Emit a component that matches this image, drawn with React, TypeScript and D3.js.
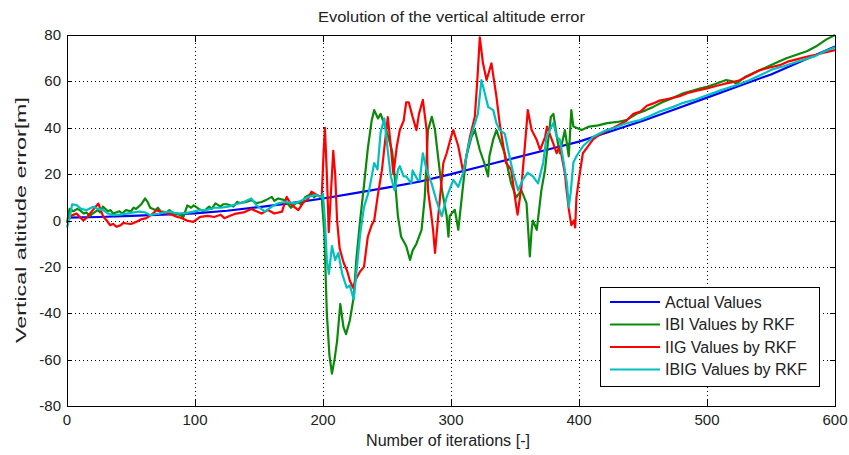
import React, { useRef, useEffect } from 'react';
import * as d3 from 'd3';

const W = 849;
const H = 455;

const xTicks = [0, 100, 200, 300, 400, 500, 600];
const yTicks = [-80, -60, -40, -20, 0, 20, 40, 60, 80];

const titleText = 'Evolution of the vertical altitude error';
const xLabelText = 'Number of iterations [-]';
const yLabelText = 'Vertical altitude error[m]';

const seriesNames = ['Actual Values', 'IBI Values by RKF', 'IIG Values by RKF', 'IBIG Values by RKF'];
const seriesColors = ['#0000ff', '#0a8a0a', '#ff0000', '#00c0c0'];

// [iteration, error]
const actualValues: [number, number][] = [
  [0, 1.2], [25, 1.5], [50, 2], [75, 2.5], [100, 3.1], [125, 4.2], [150, 5.8], [175, 7.5],
  [200, 9.5], [225, 11.8], [250, 14.2], [275, 16.7], [300, 20], [325, 23.5], [350, 27],
  [375, 30.5], [400, 34], [425, 38.5], [450, 43], [475, 48], [500, 53], [525, 58],
  [550, 63], [575, 69], [600, 75],
];

const ibiValues: [number, number][] = [
  [0, -1], [2, 5], [5, 4], [8, 5], [10, 4.5], [13, 3], [15, 3.5], [18, 2], [20, 3], [24, 4.5],
  [26, 3.5], [28, 6], [32, 4], [34, 4.5], [36, 3], [41, 4], [43, 3], [46, 4.5], [50, 4],
  [52, 5.5], [54, 5], [58, 7], [61, 9.5], [63, 8], [65, 5.5], [69, 4.5], [71, 5.5], [73, 4],
  [78, 3.5], [80, 4.5], [83, 3], [88, 2.5], [91, 1.6], [94, 6.5], [97, 5.5], [99, 6.5],
  [103, 5], [107, 4], [111, 6], [113, 5], [116, 7.4], [120, 6], [122, 7], [125, 7], [130, 6],
  [133, 8], [135, 7.5], [140, 8], [144, 8.8], [148, 7.5], [152, 8], [156, 9], [160, 10.2],
  [162, 8.5], [165, 9.5], [170, 8.8], [175, 5.5], [178, 7], [180, 8], [183, 7], [186, 10],
  [191, 11.6], [193, 10], [195, 11], [199, 10],
  [201, -5], [203, -40], [205, -58], [207, -66], [209, -60], [211, -52], [213.5, -36],
  [216, -46], [218, -49], [221, -43], [224, -33], [226, -17], [229, 0], [232, 15], [235, 31],
  [238, 43], [240, 47.6], [243, 44], [245, 46], [247, 43], [251, 36], [254, 30], [256, 19],
  [258.5, 2], [261, -7], [265, -11], [268, -17], [270, -13], [273, -10], [277, -4],
  [279.5, 10], [282, 39], [285, 44.7], [287.5, 39], [290, 27], [293, 13], [296.6, 2],
  [298, -7], [299, 2], [303, 4.6], [305.7, -4], [309.6, 16], [312, 27.7], [316, 36],
  [318.6, 39], [322.5, 30.4], [326, 24.8], [329, 19], [330, 27.7], [333, 35], [335.5, 39],
  [338, 35], [342, 29], [344.6, 22], [347, 16], [351, 10], [355, 13], [359, 7.5],
  [361.6, -15.5], [363, -4], [364, 0], [367, -4], [370.6, 13], [373.5, 22], [376, 35],
  [378, 44.7], [380, 46], [383, 35], [385, 29], [389, 39], [392, 27.7], [394, 47.6],
  [395.6, 40.5], [398, 40], [402, 39], [408, 40.5], [415, 41], [422, 42], [430, 42.5],
  [437, 43.3], [445, 46], [452, 47.5], [458, 49], [465, 51], [474, 53], [482, 55], [489, 56],
  [495, 57], [500, 57.7], [507, 59], [515, 60.6], [520, 60], [523, 59], [530, 62], [538, 64],
  [546, 66], [554, 68], [562, 70], [570, 71.5], [578, 73], [585, 75], [593, 78], [600, 80],
];

const iigValues: [number, number][] = [
  [0, -1], [3, 2], [7.5, 3], [10, 1.5], [12.8, 0], [15, 1], [18, 3], [21, 5], [24.5, 7.3],
  [26, 5], [28.4, 1.6], [31, 0], [33.6, -2], [36, -1.5], [38.8, -2.7], [42, -2], [44, -1],
  [46.6, -1.3], [50, -1.5], [54, -0.6], [58, 0.5], [62, 1], [66, 2.5], [70, 4.5], [74, 3.5],
  [78, 3], [82, 2.5], [85.7, 1.6], [90, 1], [93.5, 0], [98.7, -0.6], [104, 1.6], [110, 2],
  [115, 1.5], [120, 2.5], [123, 1], [126, 1.7], [132, 3], [138, 3.5], [144, 5], [148, 4],
  [152, 3], [157, 4.5], [162, 3], [168, 3.8], [171.6, 10.2], [175, 7], [180.7, 4.5], [185, 8],
  [188, 9], [191, 12.4], [195, 11], [199, 10],
  [200.5, 30], [201.5, 40], [203, 20], [204.5, -5], [206, 10], [208, 30], [209.5, 20],
  [211, 0], [213, -12], [216, -18], [219, -22], [221, -26], [223.5, -29], [226, -25],
  [229, -22], [232, -20], [235, -7], [238, -2], [240, 0], [243, 11.5], [246, 21.6],
  [248, 31.7], [250.6, 44.6], [253, 32], [255, 20], [257.6, 31.7], [260, 39], [263, 43],
  [265, 51], [267, 51], [270, 44.7], [273, 39], [275, 46], [278, 52], [281, 39], [282, 13],
  [284, 5], [286, -4], [287.5, -14], [290, 1.8], [294, 24.8], [296.6, 29], [300, 36],
  [301.8, 39], [305.7, 32], [309.6, 20.6], [312, 27.7], [314.8, 36], [318.6, 44.7],
  [320.5, 60], [322.5, 79], [325, 67.8], [327.8, 60.6], [331.6, 67.8], [335.5, 53.4],
  [338, 41.9], [343, 24.8], [347, 22], [351, 6], [352, 2.5], [355, 14.5], [357.7, 32],
  [360, 47.6], [363, 39], [367, 34.7], [369.6, 30.4], [373.5, 36], [375, 40.5], [377, 37.5],
  [380, 33], [382.5, 29], [385, 32], [389, 20.4], [390, 14.6], [392, 5], [394, -2], [396, 0],
  [397, -3], [398, 10], [400, 18], [403, 29], [407, 32], [411, 35], [416, 37], [421.6, 38.7],
  [427, 40], [432, 41.5], [437, 43], [442.5, 46], [448, 47], [453, 49.5], [458, 50.5],
  [463, 51.7], [470, 52.5], [478, 53.5], [485, 55], [492, 56], [500, 57], [507, 58],
  [514, 59], [520, 59.7], [525, 60.4], [533, 62.5], [541, 64.8], [549, 66], [556.9, 67],
  [563, 68.5], [570, 69.5], [577.6, 70.6], [585, 71.5], [592, 72.5], [600, 73.5],
];

const ibigValues: [number, number][] = [
  [0, -3], [2, 1], [4, 7], [7.5, 6.6], [11, 5], [15.4, 4.5], [20.6, 5.9], [24, 5],
  [28.4, 4.5], [32, 3], [36, 2.3], [41, 2.5], [46.6, 3], [52, 3.5], [57, 3.8], [61, 3.5],
  [65, 2.3], [69, 2.8], [72.6, 3], [76, 3.5], [80.5, 3.8], [84, 3.3], [88, 3], [93, 3.2],
  [98.7, 3.8], [104, 4.5], [109, 4.5], [115, 5.5], [120, 5.5], [126, 6], [132, 7], [138, 8],
  [144, 9.5], [148, 6.5], [154.7, 3.8], [160, 6], [165, 7.4], [170, 8], [178, 7.4],
  [183, 8.5], [188.5, 10.2], [194, 11], [199, 10],
  [200, 11.5], [201.5, 0], [203, -17], [204.6, -23], [207, -11], [209.5, -17], [212, -14],
  [215, -23], [218.5, -29], [221, -28], [224, -34], [226, -23], [229, -6], [232, 5.7],
  [236, 13], [240, 24.8], [242.6, 22], [245, 38], [247.9, 44], [250.6, 30], [253, 19],
  [256, 13], [258.6, 22], [260, 23.4], [263, 19], [265, 19], [269, 16], [270, 21.6],
  [274, 17.5], [275.6, 17.5], [278, 29], [281, 21.6], [284.8, 16], [288.6, 8.6],
  [292.8, 1.8], [296.6, 10], [301.8, 17.5], [305.7, 14.5], [309.6, 20.6], [313.5, 32],
  [317, 39], [321, 46], [323.8, 60.6], [326.4, 54.9], [329, 49], [333, 47.6], [335.5, 42],
  [338, 39], [342, 37.5], [344.6, 30.4], [348.5, 20.6], [352.5, 13], [356, 17.5],
  [360, 20.6], [364, 19], [368, 16], [372, 24.8], [374.6, 36], [378.5, 40.5], [380, 42],
  [382.6, 36], [385, 35], [388, 25], [390.6, 16], [392, 6], [393.5, 12], [395.6, 25],
  [398, 27.7], [403, 32], [411, 36], [416, 37.5], [421.6, 39], [428, 40], [434.6, 41.5],
  [441, 42.5], [447.7, 43.3], [455, 45], [463, 47], [473.7, 49], [480, 50.5], [490, 52],
  [500, 54], [510, 56], [518, 57.5], [525, 58.8], [533, 60.5], [541, 62.5], [551.7, 65.3],
  [560, 66.5], [568, 68], [577.7, 69.7], [585, 71], [592, 73], [600, 74.7],
];

const allSeries = [actualValues, ibiValues, iigValues, ibigValues];

const App = () => {
  const svgRef = useRef<SVGSVGElement>(null);

  useEffect(() => {
    const svg = d3.select(svgRef.current);
    svg.selectAll('*').remove();

    const left = 67, right = 835, top = 35, bottom = 406;
    const font = 'Arial, "Liberation Sans", sans-serif';

    const x = d3.scaleLinear().domain([0, 600]).range([left, right]);
    const y = d3.scaleLinear().domain([-80, 80]).range([bottom, top]);

    svg.append('rect').attr('width', W).attr('height', H).attr('fill', '#fff');

    // grid
    const grid = svg.append('g').attr('stroke', '#000').attr('stroke-width', 1).attr('stroke-dasharray', '1,3');
    grid.selectAll('.gx')
      .data(xTicks.slice(1, -1))
      .enter()
      .append('line')
      .attr('x1', d => Math.round(x(d)) + 0.5)
      .attr('x2', d => Math.round(x(d)) + 0.5)
      .attr('y1', top)
      .attr('y2', bottom);
    grid.selectAll('.gy')
      .data(yTicks.slice(1, -1))
      .enter()
      .append('line')
      .attr('y1', d => Math.round(y(d)) + 0.5)
      .attr('y2', d => Math.round(y(d)) + 0.5)
      .attr('x1', left)
      .attr('x2', right);

    // series
    const line = d3.line<[number, number]>()
      .x(d => x(d[0]))
      .y(d => y(d[1]));

    const plot = svg.append('g');
    plot.selectAll('.series')
      .data(allSeries)
      .enter()
      .append('path')
      .attr('d', d => line(d))
      .attr('fill', 'none')
      .attr('stroke', (d, i) => seriesColors[i])
      .attr('stroke-width', 2.2)
      .attr('stroke-linejoin', 'round');

    // ticks (inward, all four sides)
    const ticks = svg.append('g').attr('stroke', '#000').attr('stroke-width', 1);
    xTicks.forEach(t => {
      const px = Math.round(x(t)) + 0.5;
      ticks.append('line').attr('x1', px).attr('x2', px).attr('y1', bottom).attr('y2', bottom - 7);
      ticks.append('line').attr('x1', px).attr('x2', px).attr('y1', top).attr('y2', top + 7);
    });
    yTicks.forEach(t => {
      const py = Math.round(y(t)) + 0.5;
      ticks.append('line').attr('x1', left).attr('x2', left + 5).attr('y1', py).attr('y2', py);
      ticks.append('line').attr('x1', right).attr('x2', right - 5).attr('y1', py).attr('y2', py);
    });

    // box
    svg.append('rect')
      .attr('x', left + 0.5)
      .attr('y', top + 0.5)
      .attr('width', right - left)
      .attr('height', bottom - top)
      .attr('fill', 'none')
      .attr('stroke', '#000')
      .attr('stroke-width', 1);

    // tick labels
    svg.selectAll('.xl')
      .data(xTicks)
      .enter()
      .append('text')
      .attr('x', d => x(d))
      .attr('y', 425)
      .attr('text-anchor', 'middle')
      .attr('font-family', font)
      .attr('font-size', 15)
      .attr('fill', '#222')
      .text(d => d);

    svg.selectAll('.yl')
      .data(yTicks)
      .enter()
      .append('text')
      .attr('x', 61)
      .attr('y', d => y(d) + 5)
      .attr('text-anchor', 'end')
      .attr('font-family', font)
      .attr('font-size', 15)
      .attr('fill', '#222')
      .text(d => d);

    // title & axis labels
    svg.append('text')
      .attr('x', 318)
      .attr('y', 22)
      .attr('font-family', font)
      .attr('font-size', 14)
      .attr('textLength', 267)
      .attr('lengthAdjust', 'spacingAndGlyphs')
      .attr('fill', '#222')
      .text(titleText);

    svg.append('text')
      .attr('x', 366)
      .attr('y', 446)
      .attr('font-family', font)
      .attr('font-size', 16)
      .attr('textLength', 164)
      .attr('lengthAdjust', 'spacingAndGlyphs')
      .attr('fill', '#222')
      .text(xLabelText);

    svg.append('text')
      .attr('transform', `translate(26, 343) rotate(-90)`)
      .attr('font-family', font)
      .attr('font-size', 14)
      .attr('textLength', 246)
      .attr('lengthAdjust', 'spacingAndGlyphs')
      .attr('fill', '#222')
      .text(yLabelText);

    // legend
    const lg = svg.append('g');
    lg.append('rect')
      .attr('x', 600.5)
      .attr('y', 287.5)
      .attr('width', 219)
      .attr('height', 99)
      .attr('fill', '#fff')
      .attr('stroke', '#000')
      .attr('stroke-width', 1);

    const rows = lg.selectAll('.row')
      .data(seriesNames)
      .enter()
      .append('g')
      .attr('transform', (d, i) => `translate(0, ${302 + i * 22.5})`);
    rows.append('line')
      .attr('x1', 610)
      .attr('x2', 660)
      .attr('stroke', (d, i) => seriesColors[i])
      .attr('stroke-width', 2.2);
    rows.append('text')
      .attr('x', 665)
      .attr('y', 5.5)
      .attr('font-family', font)
      .attr('font-size', 16)
      .attr('fill', '#222')
      .text(d => d);
  }, []);

  return (
    <svg
      ref={svgRef}
      width={W}
      height={H}
      style={{ position: 'absolute', left: 0, top: 0, display: 'block' }}
    />
  );
};

export default App;
